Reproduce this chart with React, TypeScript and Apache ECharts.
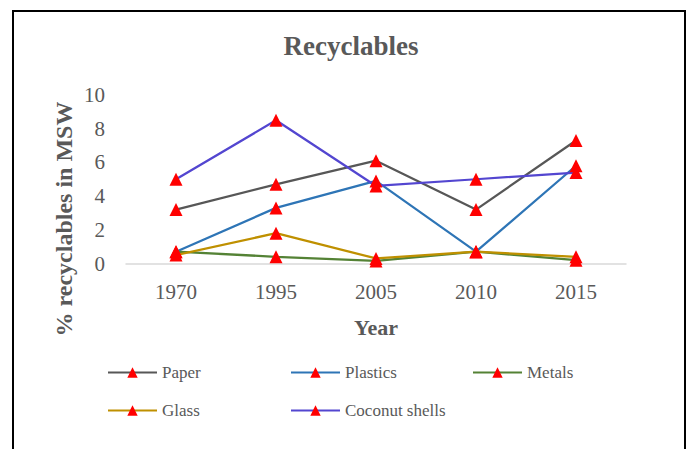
import React, { useEffect, useRef } from "react";
import * as echarts from "echarts";

const years = ["1970", "1995", "2005", "2010", "2015"];
const paper = [3.2, 4.7, 6.1, 3.2, 7.3];
const plastics = [0.7, 3.3, 4.9, 0.7, 5.8];
const metals = [0.7, 0.4, 0.15, 0.7, 0.2];
const glass = [0.5, 1.8, 0.3, 0.7, 0.4];
const coconut = [5.0, 8.5, 4.6, 5.0, 5.4];

const seriesNames = ["Paper", "Plastics", "Metals", "Glass", "Coconut shells"];
const seriesColors = ["#575757", "#2e75b6", "#548235", "#bf9000", "#5346d0"];
const seriesData = [paper, plastics, metals, glass, coconut];

const FONT = '"Liberation Serif", "Times New Roman", serif';
const TXT = "#595959";

export default function App() {
  const ref = useRef<HTMLDivElement>(null);
  useEffect(() => {
    if (!ref.current) return;
    const chart = echarts.init(ref.current, undefined, { renderer: "svg" });
    const legendPos = [
      [107, 364],
      [290, 364],
      [472, 364],
      [107, 402],
      [290, 402],
    ];
    chart.setOption({
      animation: false,
      backgroundColor: "#ffffff",
      textStyle: { fontFamily: FONT },
      graphic: [
        {
          type: "rect",
          shape: { x: 13, y: 11, width: 672, height: 500 },
          style: { fill: "none", stroke: "#000000", lineWidth: 2 },
          silent: true,
        },
        {
          type: "text",
          x: 351,
          y: 46,
          style: {
            text: "Recyclables",
            fontFamily: FONT,
            fontSize: 27,
            fontWeight: "bold",
            fill: TXT,
            align: "center",
            verticalAlign: "middle",
          },
        },
        {
          type: "text",
          x: 64,
          y: 219,
          rotation: Math.PI / 2,
          style: {
            text: "% recyclables in MSW",
            fontFamily: FONT,
            fontSize: 24,
            fontWeight: "bold",
            fill: TXT,
            align: "center",
            verticalAlign: "middle",
          },
        },
      ],
      grid: { left: 126, right: 63, top: 95, bottom: 185.5 },
      legend: seriesNames.map((n, i) => ({
        data: [n],
        left: legendPos[i][0],
        top: legendPos[i][1],
        padding: 0,
        itemWidth: 49,
        itemHeight: 13,
        itemGap: 0,
        textStyle: { fontFamily: FONT, fontSize: 17, color: TXT },
      })),
      xAxis: {
        type: "category",
        data: years,
        boundaryGap: true,
        name: "Year",
        nameLocation: "middle",
        nameGap: 64,
        nameTextStyle: { fontFamily: FONT, fontSize: 22, fontWeight: "bold", color: TXT, verticalAlign: "middle" },
        axisLine: { lineStyle: { color: "#d9d9d9", width: 1.5 } },
        axisTick: { show: false },
        axisLabel: { fontFamily: FONT, fontSize: 21, color: TXT, margin: 28, verticalAlign: "middle" },
      },
      yAxis: {
        type: "value",
        min: 0,
        max: 10,
        interval: 2,
        axisLine: { show: false },
        axisTick: { show: false },
        splitLine: { show: false },
        axisLabel: { fontFamily: FONT, fontSize: 21, color: TXT, margin: 21 },
      },
      series: seriesNames.map((n, i) => ({
        name: n,
        type: "line",
        data: seriesData[i],
        symbol: "triangle",
        symbolSize: 13,
        showAllSymbol: true,
        lineStyle: { color: seriesColors[i], width: 2.25 },
        itemStyle: { color: "#ff0000" },
        emphasis: { disabled: true },
      })),
    });
    return () => chart.dispose();
  }, []);
  return (
    <div
      ref={ref}
      style={{ position: "absolute", left: 0, top: 0, width: 689, height: 449 }}
    />
  );
}
